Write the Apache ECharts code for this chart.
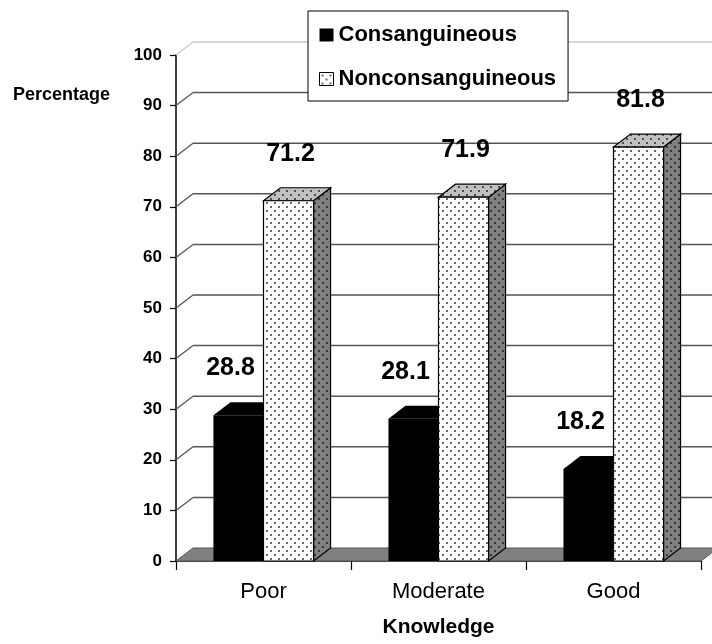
<!DOCTYPE html>
<html><head><meta charset="utf-8">
<script src="https://cdn.jsdelivr.net/npm/echarts@6/dist/echarts.min.js"></script>
<style>html,body{margin:0;padding:0;background:#fff}#c{width:712px;height:644px}</style>
</head><body><div id="c"></div>
<script>
const categories = ['Poor', 'Moderate', 'Good'];
const consanguineous = [28.8, 28.1, 18.2];
const nonconsanguineous = [71.2, 71.9, 81.8];
const seriesNames = ['Consanguineous', 'Nonconsanguineous'];
const yTicks = [0, 10, 20, 30, 40, 50, 60, 70, 80, 90, 100];
const xAxisTitle = 'Knowledge';
const yAxisTitle = 'Percentage';

const FONT = "'Liberation Sans', Arial, Helvetica, sans-serif";
const DX = 17, DY = 13;

function pattern(bg, dot) {
  const c = document.createElement('canvas');
  c.width = 8; c.height = 8;
  const ctx = c.getContext('2d');
  ctx.fillStyle = bg; ctx.fillRect(0, 0, 8, 8);
  ctx.fillStyle = dot;
  ctx.fillRect(2, 2, 2, 2);
  ctx.fillRect(6, 6, 2, 2);
  return { image: c, repeat: 'repeat' };
}
const dotFront = pattern('#ffffff', '#6a6a6a');
const dotTop = pattern('#c0c0c0', '#505050');
const dotSide = pattern('#808080', '#383838');

function barRender(idx, frontFill, topFill, sideFill, stroke, labelDx) {
  return function (params, api) {
    const cat = api.value(0), val = api.value(1);
    const base = api.coord([cat, 0]);
    const tp = api.coord([cat, val]);
    const bw = api.size([1, 0])[0] * 0.286;
    const x0 = idx === 0 ? base[0] - bw : base[0];
    const x1 = x0 + bw;
    const yb = base[1], yt = tp[1];
    const st = stroke ? { stroke: '#000', lineWidth: 1.2 } : { lineWidth: 0 };
    return {
      type: 'group',
      children: [
        { type: 'polygon', shape: { points: [[x1, yb], [x1 + DX, yb - DY], [x1 + DX, yt - DY], [x1, yt]] },
          style: Object.assign({ fill: sideFill }, st) },
        { type: 'polygon', shape: { points: [[x0, yt], [x0 + DX, yt - DY], [x1 + DX, yt - DY], [x1, yt]] },
          style: Object.assign({ fill: topFill }, st) },
        { type: 'rect', shape: { x: x0, y: yt, width: bw, height: yb - yt },
          style: Object.assign({ fill: frontFill }, st) },
        { type: 'text', x: (x0 + x1) / 2 + labelDx, y: yt - 47,
          style: { text: String(val), fill: '#000', font: "bold 25px " + FONT, align: 'center', verticalAlign: 'middle' } }
      ]
    };
  };
}

const chart = echarts.init(document.getElementById('c'), null, { renderer: 'canvas', width: 712, height: 644 });
chart.setOption({
  animation: false,
  backgroundColor: '#fff',
  textStyle: { fontFamily: FONT },
  grid: { left: 176, width: 525, top: 55, height: 506, containLabel: false },
  legend: {
    orient: 'vertical', left: 308, top: 11,
    backgroundColor: '#fff',
    borderColor: '#000', borderWidth: 1,
    padding: [13, 12, 11, 11],
    itemGap: 22, itemWidth: 14, itemHeight: 13,
    textStyle: { fontSize: 22, fontWeight: 'bold', color: '#000', lineHeight: 22, fontFamily: FONT },
    data: [
      { name: seriesNames[0], icon: 'rect', itemStyle: { color: '#000', borderWidth: 0 } },
      { name: seriesNames[1], icon: 'rect', itemStyle: { color: dotFront, borderColor: '#000', borderWidth: 1 } }
    ],
    selectedMode: false,
    z: 10
  },
  xAxis: {
    type: 'category', data: categories,
    name: xAxisTitle, nameLocation: 'middle', nameGap: 56,
    nameTextStyle: { fontSize: 21, fontWeight: 'bold', color: '#000', fontFamily: FONT },
    axisLine: { lineStyle: { color: '#000', width: 1.5 } },
    axisTick: { show: true, length: 9, interval: 0, lineStyle: { color: '#000', width: 1.2 } },
    axisLabel: { fontSize: 22, color: '#000', margin: 20, fontFamily: FONT },
    splitLine: { show: false }
  },
  yAxis: {
    type: 'value', min: 0, max: 100, interval: 10,
    name: yAxisTitle, nameLocation: 'end', nameGap: -49,
    nameTextStyle: { fontSize: 18, fontWeight: 'bold', color: '#000', align: 'right', padding: [0, 66, 0, 0], fontFamily: FONT },
    axisLine: { show: true, lineStyle: { color: '#000', width: 1.5 } },
    axisTick: { show: true, length: 6, lineStyle: { color: '#000', width: 1.2 } },
    axisLabel: { fontSize: 17, fontWeight: 'bold', color: '#000', margin: 14, fontFamily: FONT },
    splitLine: { show: false }
  },
  series: [
    {
      name: 'walls', type: 'custom', silent: true, z: 1, clip: false,
      data: yTicks.map(v => [0, v]),
      renderItem: function (params, api) {
        const v = api.value(1);
        const cs = params.coordSys;
        const y = api.coord([0, v])[1];
        const xl = cs.x, xr = cs.x + cs.width;
        if (v === 0) {
          return { type: 'polygon', shape: { points: [[xl, y], [xr, y], [xr + DX, y - DY], [xl + DX, y - DY]] },
            style: { fill: '#808080', stroke: '#555', lineWidth: 1 } };
        }
        const col = v === 100 ? '#c8c8c8' : '#555';
        return {
          type: 'group', children: [
            { type: 'line', shape: { x1: xl, y1: y, x2: xl + DX, y2: y - DY }, style: { stroke: col, lineWidth: 1.3 } },
            { type: 'line', shape: { x1: xl + DX, y1: y - DY, x2: xr + DX, y2: y - DY }, style: { stroke: col, lineWidth: 1.5 } }
          ]
        };
      }
    },
    {
      name: seriesNames[0], type: 'custom', z: 3, clip: false,
      itemStyle: { color: '#000' },
      data: categories.map((c, i) => [i, consanguineous[i]]),
      renderItem: barRender(0, '#000', '#000', '#000', false, -8)
    },
    {
      name: seriesNames[1], type: 'custom', z: 4, clip: false,
      itemStyle: { color: dotFront, borderColor: '#000', borderWidth: 1 },
      data: categories.map((c, i) => [i, nonconsanguineous[i]]),
      renderItem: barRender(1, dotFront, dotTop, dotSide, true, 2)
    }
  ]
});
</script>
</body></html>
